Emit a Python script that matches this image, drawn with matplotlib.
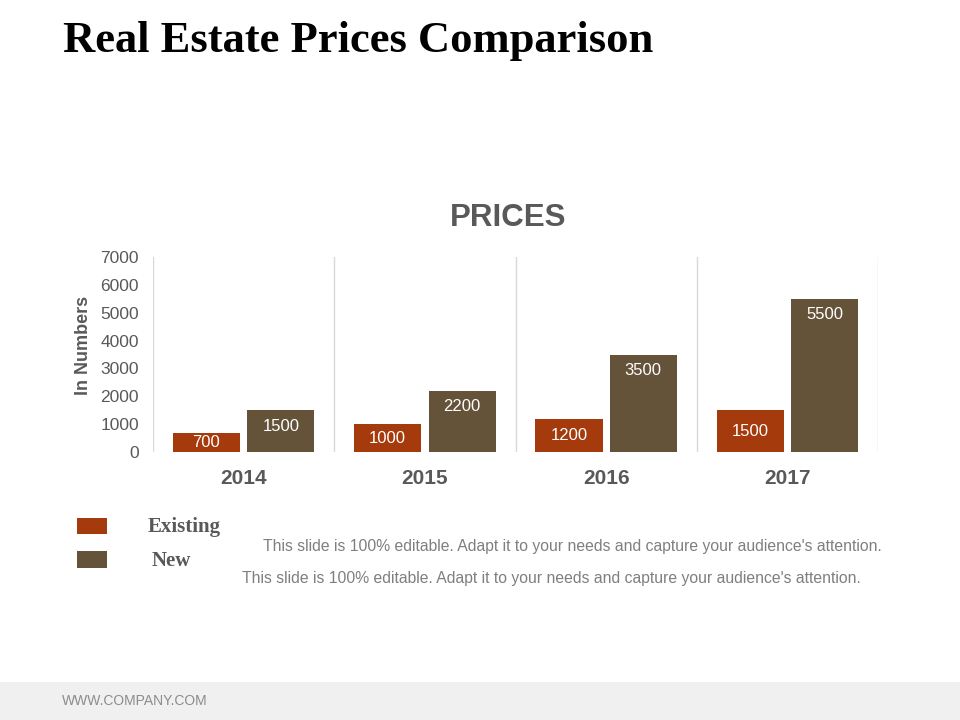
import matplotlib
matplotlib.use("Agg")
import matplotlib.pyplot as plt
import matplotlib.patches as mpatches
import numpy as np

# Data
years = ["2014", "2015", "2016", "2017"]
existing = [700, 1000, 1200, 1500]
new = [1500, 2200, 3500, 5500]
yticks = [0, 1000, 2000, 3000, 4000, 5000, 6000, 7000]

C_EX = "#A53A0C"
C_NEW = "#655339"
GRAY = "#595959"

fig = plt.figure(figsize=(9.6, 7.2), dpi=100)
fig.patch.set_facecolor("white")

# Footer band
fig.add_artist(mpatches.Rectangle((0, 0), 1, 38 / 720, transform=fig.transFigure,
                                  facecolor="#F0F0F0", edgecolor="none", zorder=0))
fig.text(62 / 960, 1 - 701 / 720, "WWW.COMPANY.COM", fontsize=10, color="#8C8C8C",
         family="Liberation Sans", va="center", ha="left")

# Title
fig.text(63 / 960, 1 - 41 / 720, "Real Estate Prices Comparison", fontsize=32,
         fontweight="bold", family="Liberation Serif", color="black", va="center", ha="left")

ax = fig.add_axes([153 / 960, 1 - 452 / 720, 725 / 960, 195 / 720])
x = np.arange(len(years))
w = 0.37
off = 0.205
b1 = ax.bar(x - off, existing, w, color=C_EX, zorder=3)
b2 = ax.bar(x + off, new, w, color=C_NEW, zorder=3)

ax.set_xlim(-0.5, len(years) - 0.5)
ax.set_ylim(0, 7000)
ax.set_yticks(yticks)
ax.set_yticklabels([str(v) for v in yticks], fontsize=12.5, color=GRAY, family="Liberation Sans")
ax.set_xticks(x)
ax.set_xticklabels(years, fontsize=15, fontweight="bold", color=GRAY, family="Liberation Sans")
ax.set_xticks(np.arange(-0.5, len(years), 1), minor=True)
ax.tick_params(axis="both", which="both", length=0)
ax.tick_params(axis="x", pad=12)
ax.tick_params(axis="y", pad=10)
ax.grid(axis="x", which="minor", color="#D9D9D9", linewidth=1, zorder=0)
ax.grid(axis="x", which="major", visible=False)
for s in ax.spines.values():
    s.set_visible(False)

fig.text(83 / 960, 1 - 345 / 720, "In Numbers", fontsize=13, fontweight="bold", color=GRAY,
         family="Liberation Sans", rotation=90, va="center", ha="center")
fig.text(508 / 960, 1 - 218 / 720, "PRICES", fontsize=22.5, fontweight="bold", color=GRAY,
         family="Liberation Sans", va="center", ha="center")

for rect, v in zip(b1, existing):
    ax.text(rect.get_x() + rect.get_width() / 2, v / 2, str(v), ha="center", va="center",
            color="white", fontsize=12, family="Liberation Sans", zorder=4)
for rect, v in zip(b2, new):
    ax.annotate(str(v), (rect.get_x() + rect.get_width() / 2, v), xytext=(0, -11.5),
                textcoords="offset points", ha="center", va="center",
                color="white", fontsize=12, family="Liberation Sans", zorder=4)

# Legend
fig.add_artist(mpatches.Rectangle((77 / 960, 1 - 534 / 720), 30 / 960, 16 / 720,
                                  transform=fig.transFigure, facecolor=C_EX, edgecolor="none"))
fig.add_artist(mpatches.Rectangle((77 / 960, 1 - 568 / 720), 30 / 960, 17 / 720,
                                  transform=fig.transFigure, facecolor=C_NEW, edgecolor="none"))
fig.text(148 / 960, 1 - 527 / 720, "Existing", fontsize=15, fontweight="bold",
         family="Liberation Serif", color=GRAY, va="center", ha="left")
fig.text(152 / 960, 1 - 561 / 720, "New", fontsize=15, fontweight="bold",
         family="Liberation Serif", color=GRAY, va="center", ha="left")

body = "This slide is 100% editable. Adapt it to your needs and capture your audience's attention."
fig.text(572 / 960, 1 - 546 / 720, body, fontsize=11.3, color="#7F7F7F",
         family="Liberation Sans", va="center", ha="center")
fig.text(551 / 960, 1 - 578 / 720, body, fontsize=11.3, color="#7F7F7F",
         family="Liberation Sans", va="center", ha="center")

fig.savefig("out.png", dpi=100, facecolor="white")
